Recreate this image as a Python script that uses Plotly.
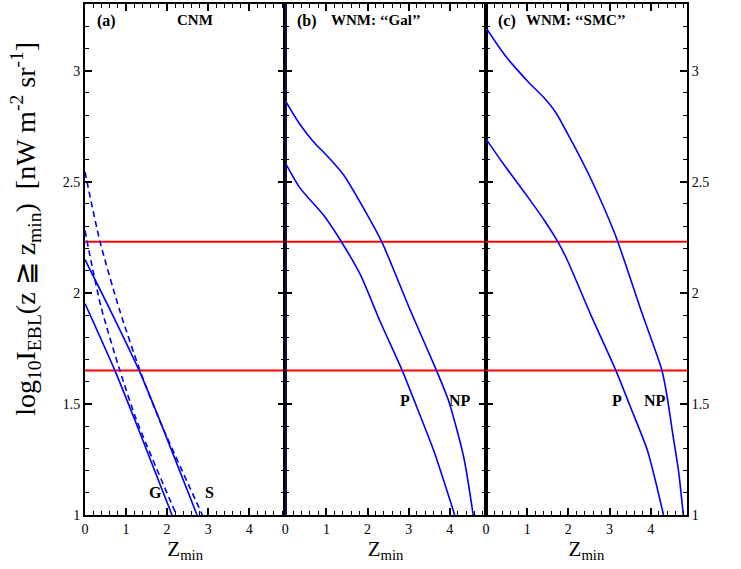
import plotly.graph_objects as go

# ---------------- data ----------------
# Panel (a) CNM
a_G_solid_x = [0.0, 0.73, 1.22, 2.12]
a_G_solid_y = [1.952, 1.65, 1.425, 1.0]
a_G_dash_x = [0.0, 0.15, 0.40, 0.85, 1.26, 2.23]
a_G_dash_y = [2.28, 2.14, 1.93, 1.65, 1.425, 1.0]
a_S_solid_x = [0.0, 0.62, 1.32, 1.825, 2.73]
a_S_solid_y = [2.149, 1.92, 1.65, 1.425, 1.0]
a_S_dash_x = [0.0, 0.365, 0.85, 1.34, 1.82, 2.86]
a_S_dash_y = [2.544, 2.231, 1.918, 1.65, 1.425, 1.0]

# Panel (b) WNM "Gal"
b_NP_x = [0.0, 0.35, 0.69, 1.05, 1.42, 1.905, 2.35, 3.02, 3.674, 3.97, 4.34, 4.57]
b_NP_y = [2.865, 2.76, 2.679, 2.61, 2.53, 2.38, 2.228, 1.93, 1.652, 1.515, 1.26, 1.0]
b_P_x = [0.0, 0.365, 0.93, 1.36, 1.825, 2.31, 2.84, 3.20, 3.61, 4.12]
b_P_y = [2.585, 2.47, 2.35, 2.231, 2.082, 1.87, 1.652, 1.485, 1.29, 1.0]

# Panel (c) WNM "SMC"
c_NP_x = [0.0, 0.47, 1.04, 1.40, 1.69, 2.09, 2.58, 3.14, 3.77, 4.27, 4.40, 4.53, 4.68, 4.79]
c_NP_y = [3.193, 3.067, 2.947, 2.88, 2.813, 2.679, 2.5, 2.26, 1.918, 1.652, 1.53, 1.37, 1.19, 1.0]
c_P_x = [0.0, 0.39, 1.04, 1.44, 1.75, 1.97, 2.54, 3.15, 3.51, 3.92, 4.31]
c_P_y = [2.693, 2.589, 2.425, 2.32, 2.228, 2.149, 1.903, 1.652, 1.485, 1.29, 1.0]

red_levels = [2.23, 1.65]
x_range = [0, 4.88]
y_range = [1, 3.3]
x_ticks = [0, 1, 2, 3, 4]
y_ticks = [1, 1.5, 2, 2.5, 3]
y_ticklabels = ["1", "1.5", "2", "2.5", "3"]

panel_labels = ["(a)", "(b)", "(c)"]
panel_titles = ["CNM", "WNM: ‘‘Gal’’", "WNM: ‘‘SMC’’"]
curve_labels = [
    (1, "G", 1.72, 1.10), (1, "S", 3.04, 1.10),
    (2, "P", 2.92, 1.515), (2, "NP", 4.26, 1.515),
    (3, "P", 3.17, 1.515), (3, "NP", 4.10, 1.515),
]

# ---------------- figure ----------------
BLUE = "#0000ff"
fig = go.Figure()

def add_line(x, y, panel, dash="solid", color=BLUE, width=1.6, shape="spline"):
    xa = "x" if panel == 1 else f"x{panel}"
    ya = "y" if panel == 1 else f"y{panel}"
    fig.add_trace(go.Scatter(x=x, y=y, mode="lines", xaxis=xa, yaxis=ya,
                             line=dict(color=color, width=width, dash=dash, shape=shape,
                                       smoothing=0.7),
                             showlegend=False, hoverinfo="skip"))

# red horizontal lines
for p in (1, 2, 3):
    for lv in red_levels:
        add_line(x_range, [lv, lv], p, color="#ff0000", width=2, shape="linear")

add_line(a_G_solid_x, a_G_solid_y, 1)
add_line(a_S_solid_x, a_S_solid_y, 1)
add_line(a_G_dash_x, a_G_dash_y, 1, dash="6px,4px")
add_line(a_S_dash_x, a_S_dash_y, 1, dash="6px,4px")
add_line(b_NP_x, b_NP_y, 2)
add_line(b_P_x, b_P_y, 2)
add_line(c_NP_x, c_NP_y, 3)
add_line(c_P_x, c_P_y, 3)
# dark vertical line at z=0 in panel (b)
add_line([0, 0], y_range, 2, color="#14145a", width=3, shape="linear")

doms = [[0.0, 0.3327], [0.3327, 0.6660], [0.6660, 1.0]]
FONT = "Liberation Serif"
tickfont = dict(family=FONT, size=14, color="black")

layout = dict(
    width=741, height=569,
    margin=dict(l=85, r=54, t=2, b=54),
    paper_bgcolor="white", plot_bgcolor="white",
    showlegend=False,
)
for i in range(3):
    key = "xaxis" if i == 0 else f"xaxis{i+1}"
    ykey = "yaxis" if i == 0 else f"yaxis{i+1}"
    yanc = "y" if i == 0 else f"y{i+1}"
    xanc = "x" if i == 0 else f"x{i+1}"
    layout[key] = dict(
        domain=doms[i], range=x_range, anchor=yanc,
        tickvals=x_ticks, ticks="inside", ticklen=7, tickwidth=1.5, tickcolor="black",
        minor=dict(ticks="inside", ticklen=4, dtick=0.2, tick0=0, tickcolor="black", tickwidth=1),
        showline=True, linecolor="black", linewidth=2, mirror="ticks",
        showgrid=False, zeroline=False, tickfont=tickfont,
        title=dict(text="Z<sub>min</sub>", font=dict(family=FONT, size=21, color="black"), standoff=2),
    )
    yd = dict(
        domain=[0, 1], range=y_range, anchor=xanc,
        tickvals=y_ticks, ticktext=y_ticklabels, ticks="inside", ticklen=7, tickwidth=1.5, tickcolor="black",
        minor=dict(ticks="inside", ticklen=4, dtick=0.1, tick0=1, tickcolor="black", tickwidth=1),
        showline=True, linecolor="black", linewidth=2, mirror="ticks",
        showgrid=False, zeroline=False, tickfont=tickfont,
        showticklabels=(i != 1),
    )
    if i == 2:
        yd["side"] = "right"
    layout[ykey] = yd

fig.update_layout(**layout)

ann = []
for i in range(3):
    xr = "x domain" if i == 0 else f"x{i+1} domain"
    yr = "y domain" if i == 0 else f"y{i+1} domain"
    ann.append(dict(text="<b>" + panel_labels[i] + "</b>", xref=xr, yref=yr, x=0.05, y=0.988,
                    xanchor="left", yanchor="top", showarrow=False,
                    font=dict(family=FONT, size=16, color="black")))
    ann.append(dict(text="<b>" + panel_titles[i] + "</b>", xref=xr, yref=yr,
                    x=0.55 if i == 0 else 0.45, y=0.988,
                    xanchor="center", yanchor="top", showarrow=False,
                    font=dict(family=FONT, size=15, color="black")))
for p, t, x, y in curve_labels:
    xr = "x" if p == 1 else f"x{p}"
    yr = "y" if p == 1 else f"y{p}"
    ann.append(dict(text="<b>" + t + "</b>", xref=xr, yref=yr, x=x, y=y, showarrow=False,
                    xanchor="center", yanchor="middle",
                    font=dict(family=FONT, size=16, color="black")))
ann.append(dict(text="log<sub>10</sub>I<sub>EBL</sub>(z ≧ z<sub>min</sub>)  [nW m<sup>-2</sup> sr<sup>-1</sup>]",
                xref="paper", yref="paper", x=-0.098, y=0.56, textangle=-90,
                xanchor="center", yanchor="middle", showarrow=False,
                font=dict(family=FONT, size=28, color="black")))
fig.update_layout(annotations=ann)

fig.write_html("out.html", config={"displayModeBar": False},
               post_script="document.body.style.margin='0px';")
